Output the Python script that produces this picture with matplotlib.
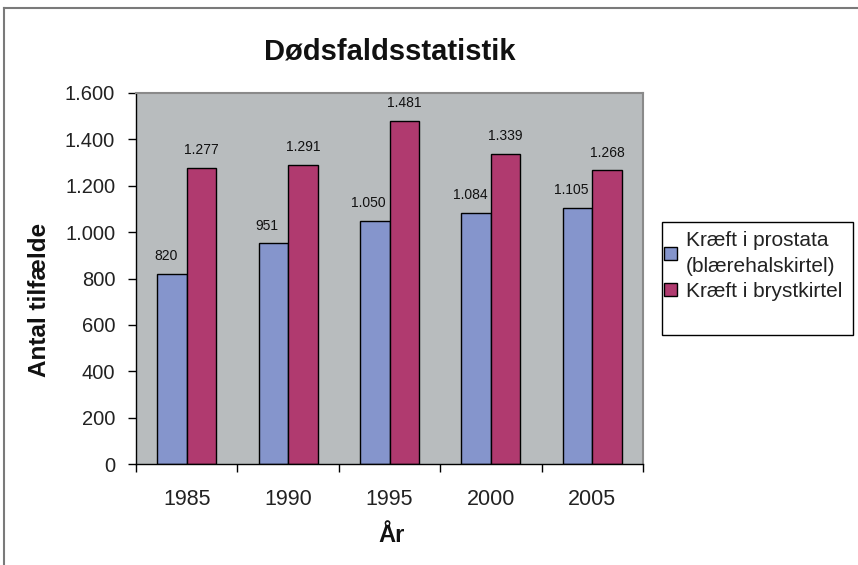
import matplotlib
matplotlib.use("Agg")
import matplotlib.pyplot as plt
import numpy as np
from matplotlib.patches import Patch, Rectangle
from matplotlib.lines import Line2D

years = ["1985", "1990", "1995", "2000", "2005"]
prostata = [820, 951, 1050, 1084, 1105]
bryst = [1277, 1291, 1481, 1339, 1268]
series_names = ["Kræft i prostata\n(blærehalskirtel)", "Kræft i brystkirtel"]

blue = "#8595cc"
red = "#b03a6f"
bg = "#b8bcbe"

plt.rcParams["font.family"] = ["Liberation Sans", "DejaVu Sans"]

def dk(v):
    return f"{int(v):,}".replace(",", ".")

fig = plt.figure(figsize=(8.58, 5.65), dpi=100)
ax = fig.add_axes([136/858, 1-464/565, (643-136)/858, (464-93)/565])
ax.set_facecolor(bg)

x = np.arange(len(years))
w = 0.29
b1 = ax.bar(x - w/2, prostata, w, color=blue, edgecolor="black", linewidth=1)
b2 = ax.bar(x + w/2, bryst, w, color=red, edgecolor="black", linewidth=1)

for rect, v in zip(b1, prostata):
    ax.text(rect.get_x() + rect.get_width()/2 - 0.06, v + 45, dk(v),
            ha="center", va="bottom", fontsize=10, color="#111111")
for rect, v in zip(b2, bryst):
    ax.text(rect.get_x() + rect.get_width()/2, v + 45, dk(v),
            ha="center", va="bottom", fontsize=10, color="#111111")

ax.set_xlim(-0.5, len(years) - 0.5)
ax.set_ylim(0, 1600)
ax.set_yticks(np.arange(0, 1601, 200))
ax.set_yticklabels([dk(v) for v in np.arange(0, 1601, 200)], fontsize=14.5,
                   color="#222222")
ax.set_xticks(x)
ax.set_xticklabels(years, fontsize=15.5, color="#222222")
ax.tick_params(axis="x", length=0, pad=18)
ax.set_xticks(np.arange(-0.5, len(years)), minor=True)
ax.tick_params(axis="x", which="minor", length=6, width=1, direction="out")
ax.tick_params(axis="y", length=6, width=1, direction="out", pad=9)

for s in ["top", "right"]:
    ax.spines[s].set_color("#8a8a8a")
    ax.spines[s].set_linewidth(1.5)
for s in ["left", "bottom"]:
    ax.spines[s].set_color("black")
    ax.spines[s].set_linewidth(1)

fig.text(392/858, 1-535/565, "År", ha="center", va="center",
         fontsize=17, fontweight="bold", color="#111111")
fig.text(40/858, 1-300/565, "Antal tilfælde", ha="center", va="center",
         rotation=90, fontsize=17.5, fontweight="bold", color="#111111")

fig.text(390/858, 1-52/565, "Dødsfaldsstatistik", ha="center", va="center",
         fontsize=21, fontweight="bold", color="#111111")

# legend box (Excel draws it taller than its entries)
fig.add_artist(Rectangle((662/858, 1-335/565), (853-662)/858, (335-222)/565,
                         transform=fig.transFigure, facecolor="white",
                         edgecolor="black", linewidth=1, zorder=1))
handles = [Patch(facecolor=blue, edgecolor="black"),
           Patch(facecolor=red, edgecolor="black")]
leg = fig.legend(handles, series_names, loc="upper left",
                 bbox_to_anchor=(664/858, 1-231/565), frameon=False,
                 fontsize=15, handlelength=0.6, handleheight=0.6,
                 handletextpad=0.45, borderpad=0, labelspacing=0.3,
                 borderaxespad=0)
leg.set_zorder(2)
for t in leg.get_texts():
    t.set_color("#222222")
    t.set_linespacing(1.45)

# outer chart frame
fig.add_artist(Line2D([4/858, 4/858], [0, 1-8/565], transform=fig.transFigure,
                      color="#7a7a7a", linewidth=1.5))
fig.add_artist(Line2D([4/858, 1], [1-8/565, 1-8/565], transform=fig.transFigure,
                      color="#7a7a7a", linewidth=1.5))

fig.savefig("out.png", dpi=100)
